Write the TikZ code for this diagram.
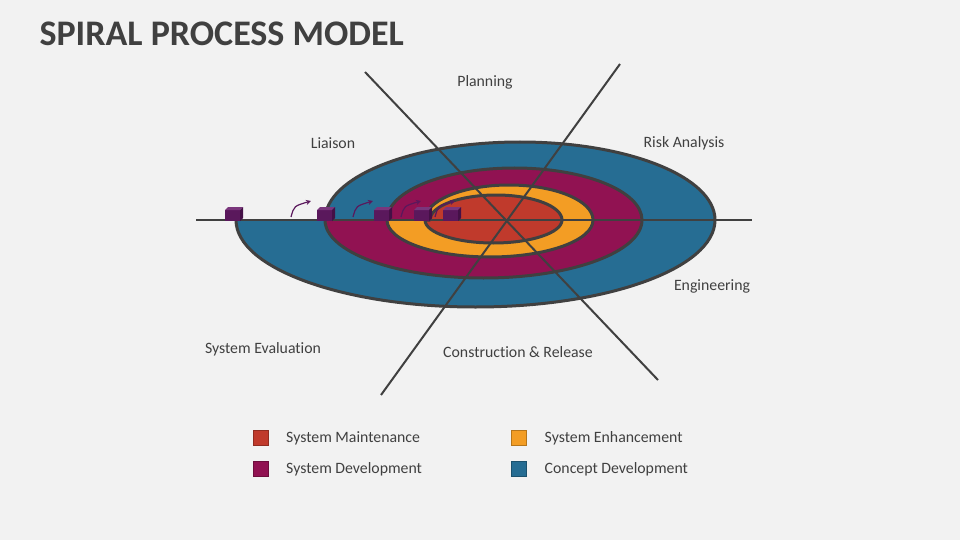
\documentclass[tikz,border=0pt]{standalone}
\usepackage{fontspec}
\setmainfont{Carlito}[Ligatures=NoCommon]
\usetikzlibrary{arrows.meta,positioning}

\definecolor{bgray}{RGB}{242,242,242}
\definecolor{tgray}{RGB}{64,64,64}
\definecolor{lgray}{RGB}{64,64,64}
\definecolor{cblue}{RGB}{38,109,147}
\definecolor{cmag}{RGB}{145,18,82}
\definecolor{corange}{RGB}{243,157,36}
\definecolor{cred}{RGB}{192,58,44}
\definecolor{cubef}{RGB}{90,24,92}
\definecolor{cubet}{RGB}{122,54,124}
\definecolor{cubes}{RGB}{68,16,70}

\begin{document}
\begin{tikzpicture}[x=1pt,y=-1pt,
		lbl/.style={text=tgray,inner sep=0pt,font=\fontsize{15.8}{18}\selectfont},
		ring/.style={draw=lgray,line width=3pt,line join=round},
		spoke/.style={draw=lgray,line width=2pt},
		legbox/.style={minimum size=15pt,inner sep=0pt,line width=1pt},
		turn/.style={-{Stealth[length=5pt,width=5pt]},draw=cubef,line width=1.2pt}]
		\fill[bgray] (0,0) rectangle (960,540);
		\useasboundingbox (0,0) rectangle (960,540);
		
		\node[anchor=base west,text=tgray,font=\fontsize{36}{40}\bfseries] (title) at (36,46) {SPIRAL PROCESS MODEL};
		
		% bands of the spiral
		\fill[cblue] (236,220) arc[start angle=180,end angle=0,x radius=239.5,y radius=87]
			arc[start angle=0,end angle=-180,x radius=195,y radius=78] -- cycle;
		\fill[cmag] (325,220) arc[start angle=180,end angle=0,x radius=158.5,y radius=58]
			arc[start angle=0,end angle=-180,x radius=127.5,y radius=52] -- cycle;
		\fill[corange] (387,220) arc[start angle=180,end angle=0,x radius=103,y radius=37]
			arc[start angle=0,end angle=-180,x radius=84,y radius=35] -- cycle;
		\fill[cred] (425,220) arc[start angle=180,end angle=0,x radius=68.5,y radius=23]
			arc[start angle=0,end angle=-180,x radius=66,y radius=25] -- cycle;
		\draw[ring] (236,220) arc[start angle=180,end angle=0,x radius=239.5,y radius=87]
			arc[start angle=0,end angle=-180,x radius=195,y radius=78]
			arc[start angle=180,end angle=0,x radius=158.5,y radius=58]
			arc[start angle=0,end angle=-180,x radius=127.5,y radius=52]
			arc[start angle=180,end angle=0,x radius=103,y radius=37]
			arc[start angle=0,end angle=-180,x radius=84,y radius=35]
			arc[start angle=180,end angle=0,x radius=68.5,y radius=23]
			arc[start angle=0,end angle=-180,x radius=66,y radius=25] -- (425,220);
		
		% spokes
		\coordinate (w) at (196,220);
		\coordinate (e) at (752,220);
		\coordinate (nw) at (365,72);
		\coordinate (se) at (658,380);
		\coordinate (ne) at (620,64);
		\coordinate (sw) at (381,395);
		\draw[spoke] (w) -- (e);
		\draw[spoke] (nw) -- (se);
		\draw[spoke] (ne) -- (sw);
		
		% cubes and arrows
		\foreach \cx in {225,317,374,414,443} {
			\fill[cubef] (\cx,221) rectangle (\cx+15,210);
			\fill[cubet] (\cx,210) -- (\cx+3,207) -- (\cx+18,207) -- (\cx+15,210) -- cycle;
			\fill[cubes] (\cx+15,210) -- (\cx+18,207) -- (\cx+18,218) -- (\cx+15,221) -- cycle;
		}
		\foreach \ax in {291,353,401,435}
			\draw[turn] (\ax,217) .. controls (\ax+3,206) .. (\ax+20,201);
		
		% phase labels
		\node[lbl] (plan) at (485,82) {Planning};
		\node[lbl] (liaison) at (333,143) {Liaison};
		\node[lbl] (risk) at (684,143) {Risk Analysis};
		\node[lbl] (engg) at (712,286) {Engineering};
		\node[lbl] (seval) at (263,349) {System Evaluation};
		\node[lbl] (cons) at (518,352) {Construction \& Release};
		
		% legend
		\node[legbox,fill=cred,draw=cred!75!black] (lmain) at (261,438) {};
		\node[legbox,fill=cmag,draw=cmag!75!black] (ldev) at (261,469) {};
		\node[legbox,fill=corange,draw=corange!75!black] (lenh) at (518.5,438) {};
		\node[legbox,fill=cblue,draw=cblue!75!black] (lcon) at (518.5,469) {};
		\node[lbl,right=17pt of lmain] (tmain) {System Maintenance};
		\node[lbl,right=17pt of ldev] (tdev) {System Development};
		\node[lbl,right=18pt of lenh] (tenh) {System Enhancement};
		\node[lbl,right=18pt of lcon] (tcon) {Concept Development};
\end{tikzpicture}
\end{document}
